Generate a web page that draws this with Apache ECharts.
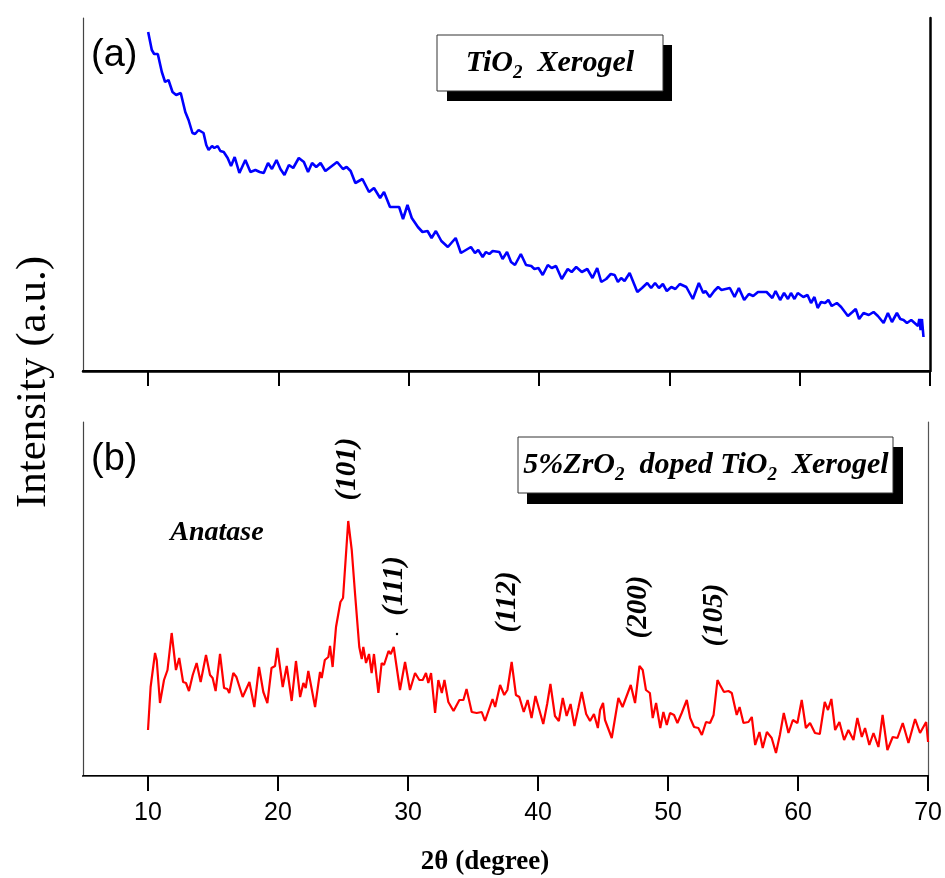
<!DOCTYPE html>
<html><head><meta charset="utf-8">
<script src="https://cdn.jsdelivr.net/npm/echarts@6/dist/echarts.min.js"></script>
<style>html,body{margin:0;padding:0;background:#fff}#c{width:945px;height:878px}</style>
</head><body><div id="c"></div>
<script>
// Tick labels of the 2θ axis
var tickValues = [10, 20, 30, 40, 50, 60, 70];

// (a) TiO2 xerogel: 2θ (degree) and intensity (a.u.)
var tio2Angle = [10.0,10.28,10.46,10.74,11.05,11.3,11.56,11.87,12.15,12.3,12.5,12.85,13.1,13.4,13.6,13.87,14.25,14.46,14.64,14.9,15.08,15.33,15.54,15.8,16.1,16.36,16.64,17.0,17.46,17.85,18.23,18.56,18.87,19.2,19.5,19.85,20.15,20.46,20.8,21.13,21.56,21.95,22.27,22.58,22.9,23.23,23.6,24.0,24.5,24.95,25.23,25.54,25.9,26.44,26.95,27.33,27.8,28.1,28.56,29.26,29.56,29.9,30.23,30.7,31.05,31.44,31.75,32.08,32.5,33.0,33.6,34.0,34.77,35.08,35.33,35.67,35.92,36.18,36.44,36.95,37.2,37.54,37.85,38.15,38.6,39.0,39.4,39.64,39.95,40.28,40.67,40.97,41.3,41.74,42.2,42.5,42.85,43.28,43.7,44.1,44.46,44.77,45.15,45.5,45.8,46.05,46.3,46.56,46.95,47.54,47.9,48.3,48.6,48.9,49.2,49.5,49.8,50.15,50.46,50.8,51.3,51.8,52.26,52.6,52.77,53.1,53.44,53.74,54.0,54.64,55.0,55.33,55.74,56.1,56.43,56.8,57.46,57.9,58.15,58.5,58.8,59.1,59.33,59.6,59.85,60.28,60.6,60.87,61.13,61.38,61.64,61.95,62.2,62.46,62.85,63.18,63.7,64.05,64.3,64.56,64.9,65.3,65.67,66.0,66.44,66.77,67.08,67.46,67.72,67.97,68.23,68.56,68.82,69.08,69.18,69.28,69.38,69.5];
var tio2Intensity = [339,321,317,317,299,289,291,279,276,274,278,259,251,238,237,241,238,226,221,225,223,225,220,219,213,205,214,198,211,199,201,199,198,208,202,211,202,196,206,203,213,209,199,208,204,208,200,204,209,202,204,200,188,192,179,183,173,179,164,164,152,166,153,144,139,140,133,140,130,124,133,118,124,118,121,114,119,117,120,119,112,119,109,106,117,106,105,102,103,96,106,103,105,92,102,99,104,99,102,93,103,89,92,97,96,89,93,90,98,79,83,88,83,88,83,87,80,84,82,87,84,72,88,78,80,74,80,84,81,83,74,83,71,77,75,79,79,73,80,71,78,72,78,72,78,74,76,68,74,63,69,68,71,65,68,64,55,59,62,52,58,56,59,55,48,58,49,58,52,51,48,51,48,45,52,41,52,34];

// (b) 5% ZrO2 doped TiO2 xerogel: 2θ (degree) and intensity (a.u.)
var zrAngle = [10.0,10.2,10.54,10.67,10.92,11.23,11.5,11.82,12.15,12.4,12.7,12.92,13.15,13.44,13.74,14.05,14.46,14.77,14.97,15.2,15.54,15.85,16.1,16.25,16.56,16.8,16.95,17.28,17.8,18.18,18.54,18.87,19.18,19.5,19.77,19.95,20.36,20.67,21.05,21.38,21.7,21.95,22.13,22.33,22.85,23.23,23.36,23.6,23.87,24.0,24.2,24.46,24.8,25.0,25.4,25.67,25.92,26.25,26.44,26.56,26.77,27.0,27.2,27.38,27.72,27.97,28.15,28.5,28.67,28.9,29.38,29.77,30.15,30.54,30.87,31.13,31.38,31.56,31.77,32.08,32.33,32.6,32.8,33.1,33.5,33.95,34.26,34.5,34.9,35.28,35.67,35.92,36.5,36.7,37.08,37.4,37.64,37.97,38.3,38.56,38.9,39.2,39.5,39.8,40.1,40.4,40.7,40.95,41.3,41.6,41.9,42.2,42.5,42.8,43.1,43.36,43.7,44.0,44.3,44.6,44.77,45.0,45.15,45.67,46.18,46.5,47.13,47.46,47.8,48.05,48.3,48.6,48.82,49.08,49.4,49.64,49.9,50.15,50.46,50.72,51.05,51.44,51.7,52.0,52.33,52.6,52.92,53.23,53.5,53.8,54.0,54.3,54.64,54.9,55.28,55.5,55.8,56.18,56.44,56.7,57.03,57.28,57.6,57.97,58.3,58.6,58.9,59.26,59.6,59.95,60.28,60.6,60.92,61.3,61.67,62.05,62.3,62.56,62.85,63.18,63.54,63.87,64.26,64.56,64.9,65.15,65.48,65.8,66.18,66.5,66.87,67.28,67.64,68.05,68.49,69.0,69.38,69.85,70.0];
var zrIntensity = [46,89,123,116,73,96,106,143,106,118,94,93,85,101,113,94,121,101,98,85,122,88,87,83,103,99,99,79,94,69,109,84,73,108,110,128,89,110,75,115,79,93,88,105,69,104,98,116,119,130,109,149,174,178,255,226,183,129,117,129,113,122,103,122,83,113,111,125,122,129,86,114,86,103,96,96,103,93,103,63,96,83,96,74,65,76,76,87,64,63,64,55,77,69,91,81,86,114,81,79,64,76,58,80,66,52,72,92,60,55,78,60,72,50,68,84,62,55,62,48,66,73,56,38,78,69,91,73,110,106,86,83,58,73,48,64,51,63,61,53,63,76,58,49,48,41,54,53,61,96,91,84,85,83,61,69,53,54,59,31,44,28,44,38,23,41,63,43,56,53,76,48,53,43,42,74,66,77,46,54,36,46,36,58,39,48,31,43,29,61,26,39,38,53,33,57,43,54,34];

// Peak (hkl) annotations
var peakLabels = ['(101)', '(111)', '(112)', '(200)', '(105)'];

function pairs(xs, ys){ return xs.map(function(x,i){ return [x, ys[i]]; }); }

var chart = echarts.init(document.getElementById('c'), null, {renderer:'canvas'});
var tickFont = {fontFamily:'"Liberation Sans Narrow","Liberation Sans",Arial,sans-serif', fontSize:25, color:'#000'};
var serifBI = '"Liberation Serif","Times New Roman",serif';

var option = {
  animation:false,
  backgroundColor:'#fff',
  grid:[
    {left:83, right:15, top:18, height:353, containLabel:false},
    {left:83, right:15, top:422, height:354, containLabel:false}
  ],
  xAxis:[
    {gridIndex:0, type:'value', min:5, max:70, position:'bottom',
     axisLine:{lineStyle:{color:'#000', width:2}},
     axisTick:{show:true, inside:false, length:15, lineStyle:{color:'#000', width:2}, customValues:tickValues},
     axisLabel:{show:false, customValues:tickValues}, splitLine:{show:false}},
    {gridIndex:0, type:'value', min:5, max:70, position:'top',
     axisLine:{lineStyle:{color:'#000', width:2.5}}, axisTick:{show:false}, axisLabel:{show:false}, splitLine:{show:false}},
    {gridIndex:1, type:'value', min:5, max:70, position:'bottom',
     axisLine:{lineStyle:{color:'#000', width:2}},
     axisTick:{show:true, inside:false, length:15, lineStyle:{color:'#000', width:2}, customValues:tickValues},
     axisLabel:Object.assign({show:true, margin:25, customValues:tickValues}, tickFont), splitLine:{show:false}},
    {gridIndex:1, type:'value', min:5, max:70, position:'top',
     axisLine:{lineStyle:{color:'#555', width:1.2}}, axisTick:{show:false}, axisLabel:{show:false}, splitLine:{show:false}}
  ],
  yAxis:[
    {gridIndex:0, type:'value', min:0, max:353, position:'left',
     axisLine:{show:true, lineStyle:{color:'#444', width:1.2}}, axisTick:{show:false}, axisLabel:{show:false}, splitLine:{show:false}},
    {gridIndex:0, type:'value', min:0, max:353, position:'right',
     axisLine:{show:true, lineStyle:{color:'#000', width:2.5}}, axisTick:{show:false}, axisLabel:{show:false}, splitLine:{show:false}},
    {gridIndex:1, type:'value', min:0, max:354, position:'left',
     axisLine:{show:true, lineStyle:{color:'#444', width:1.2}}, axisTick:{show:false}, axisLabel:{show:false}, splitLine:{show:false}},
    {gridIndex:1, type:'value', min:0, max:354, position:'right',
     axisLine:{show:true, lineStyle:{color:'#555', width:1.2}}, axisTick:{show:false}, axisLabel:{show:false}, splitLine:{show:false}}
  ],
  series:[
    {type:'line', xAxisIndex:0, yAxisIndex:0, data:pairs(tio2Angle, tio2Intensity), showSymbol:false, smooth:false,
     lineStyle:{color:'#0000ff', width:2.6}, z:5},
    {type:'line', xAxisIndex:2, yAxisIndex:2, data:pairs(zrAngle, zrIntensity), showSymbol:false, smooth:false,
     lineStyle:{color:'#ff0000', width:2.2}, z:5}
  ],
  graphic:[
    // Y title
    {type:'text', x:34, y:382, rotation:Math.PI/2, style:{text:'Intensity (a.u.)', font:'43px '+serifBI, fill:'#000', align:'center', verticalAlign:'middle'}},
    // X title
    {type:'text', x:485, y:862, style:{text:'2θ (degree)', font:'bold 27px '+serifBI, fill:'#000', align:'center', verticalAlign:'middle'}},
    // panel letters
    {type:'text', x:91, y:56, style:{text:'(a)', font:'38px "Liberation Sans",Arial,sans-serif', fill:'#000', verticalAlign:'middle'}},
    {type:'text', x:91, y:460, style:{text:'(b)', font:'38px "Liberation Sans",Arial,sans-serif', fill:'#000', verticalAlign:'middle'}},
    // box (a)
    {type:'rect', shape:{x:447, y:45, width:225, height:56}, style:{fill:'#000'}, z:10},
    {type:'rect', shape:{x:437, y:35, width:226, height:56}, style:{fill:'#fff', stroke:'#333', lineWidth:1}, z:11},
    {type:'text', x:550, y:63, z:12, style:{
      text:'{t|TiO}{s|2}{t|  Xerogel}', align:'center', verticalAlign:'middle',
      rich:{t:{font:'italic bold 30px '+serifBI, fill:'#000'}, s:{font:'italic bold 19px '+serifBI, fill:'#000', padding:[20,0,0,0]}}}},
    // box (b)
    {type:'rect', shape:{x:527, y:447, width:376, height:57}, style:{fill:'#000'}, z:10},
    {type:'rect', shape:{x:518, y:437, width:375, height:56}, style:{fill:'#fff', stroke:'#333', lineWidth:1}, z:11},
    {type:'text', x:706, y:465, z:12, style:{
      text:'{t|5%ZrO}{s|2}{t|  doped TiO}{s|2}{t|  Xerogel}', align:'center', verticalAlign:'middle',
      rich:{t:{font:'italic bold 30px '+serifBI, fill:'#000'}, s:{font:'italic bold 19px '+serifBI, fill:'#000', padding:[20,0,0,0]}}}},
    // Anatase
    {type:'text', x:217, y:533, style:{text:'Anatase', font:'italic bold 28px '+serifBI, fill:'#000', align:'center', verticalAlign:'middle'}},
    // peak labels (rotated)
    {type:'text', x:348, y:469, rotation:Math.PI/2, style:{text:peakLabels[0], font:'italic bold 29px '+serifBI, fill:'#000', align:'center', verticalAlign:'middle'}},
    {type:'text', x:395, y:586, rotation:Math.PI/2, style:{text:peakLabels[1], font:'italic bold 29px '+serifBI, fill:'#000', align:'center', verticalAlign:'middle'}},
    {type:'text', x:508, y:602, rotation:Math.PI/2, style:{text:peakLabels[2], font:'italic bold 29px '+serifBI, fill:'#000', align:'center', verticalAlign:'middle'}},
    {type:'text', x:639, y:607, rotation:Math.PI/2, style:{text:peakLabels[3], font:'italic bold 29px '+serifBI, fill:'#000', align:'center', verticalAlign:'middle'}},
    {type:'text', x:715, y:615, rotation:Math.PI/2, style:{text:peakLabels[4], font:'italic bold 29px '+serifBI, fill:'#000', align:'center', verticalAlign:'middle'}},
    {type:'circle', shape:{cx:397, cy:634, r:1.2}, style:{fill:'#000'}}
  ]
};
chart.setOption(option);
</script>
</body></html>
